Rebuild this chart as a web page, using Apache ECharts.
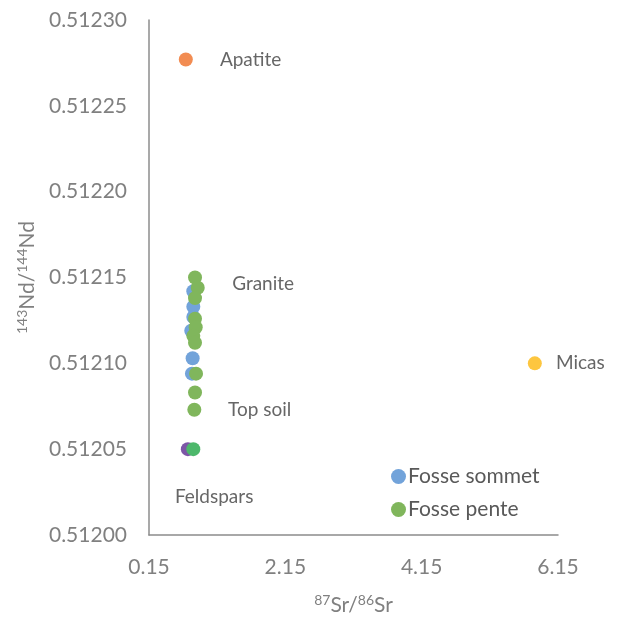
<!DOCTYPE html>
<html><head><meta charset="utf-8">
<script src="https://cdn.jsdelivr.net/npm/echarts@6/dist/echarts.min.js"></script>
<style>html,body{margin:0;padding:0;background:#fff}#c{width:620px;height:617px}</style>
</head><body><div id="c"></div>
<script>
// Data (x = 87Sr/86Sr, y = 143Nd/144Nd)
var fosseSommet = [[0.80,0.512142],[0.80,0.512133],[0.77,0.512119],[0.80,0.512127],[0.79,0.512103],[0.78,0.512094]];
var fossePente = [[0.825,0.512150],[0.865,0.512144],[0.825,0.512138],[0.825,0.512126],[0.835,0.512121],[0.80,0.512116],[0.825,0.512112],[0.84,0.512094],[0.825,0.512083],[0.815,0.512073]];
var apatite = [[0.69,0.512277]];
var micas = [[5.81,0.512100]];
var feldspars = [[0.72,0.512050]];
var topSoil = [[0.80,0.512050]];
var annotations = [[1.19,0.512277,'Apatite'],[6.12,0.512100,'Micas'],[1.37,0.512146,'Granite'],[1.31,0.512073,'Top soil'],[0.53,0.512022,'Feldspars']];
var xTicks = [0.15,2.15,4.15,6.15];
var yTicks = [0.51200,0.51205,0.51210,0.51215,0.51220,0.51225,0.51230];

var FONT = 'Lato';
var chart = echarts.init(document.getElementById('c'), null, {renderer:'canvas'});
function sc(name, data, color, z){
  return {name:name, type:'scatter', data:data, symbolSize:14, z:z||2,
    itemStyle:{color:color, opacity:1}, emphasis:{disabled:true}};
}
chart.setOption({
  animation:false,
  backgroundColor:'#fff',
  grid:{left:149, right:62, top:20, bottom:82, outerBoundsMode:'none', containLabel:false},
  legend:{orient:'vertical', left:386, top:461, itemGap:12, icon:'circle', itemWidth:15, itemHeight:15,
    textStyle:{fontFamily:FONT, fontSize:21, color:'#595959', padding:[0,0,0,-3]},
    data:['Fosse sommet','Fosse pente']},
  xAxis:{type:'value', min:0.15, max:6.15,
    axisLine:{show:true, lineStyle:{color:'#8c8c8c', width:1.5}},
    axisTick:{show:false}, splitLine:{show:false},
    axisLabel:{customValues:xTicks, formatter:function(v){return v.toFixed(2);}, fontFamily:FONT, fontSize:21, color:'#808080', margin:22},
    name:'{sup|87}{b|Sr/}{sup|86}{b|Sr}', nameLocation:'middle', nameGap:58,
    nameTextStyle:{rich:{b:{fontFamily:FONT,fontSize:21,color:'#808080'}, sup:{fontFamily:FONT,fontSize:14,color:'#808080',padding:[0,0,10,0]}}}
  },
  yAxis:{type:'value', min:0.512, max:0.5123, interval:0.00005,
    axisLine:{show:true, lineStyle:{color:'#8c8c8c', width:1.5}},
    axisTick:{show:false}, splitLine:{show:false},
    axisLabel:{customValues:yTicks, formatter:function(v){return v.toFixed(5);}, fontFamily:FONT, fontSize:21, color:'#808080', margin:22},
    name:'{sup|143}{b|Nd/}{sup|144}{b|Nd}', nameLocation:'middle', nameGap:109, nameRotate:90,
    nameTextStyle:{rich:{b:{fontFamily:FONT,fontSize:21,color:'#808080'}, sup:{fontFamily:FONT,fontSize:14,color:'#808080',padding:[0,0,10,0]}}}
  },
  series:[
    sc('Fosse sommet', fosseSommet, '#72A3DA', 2),
    sc('Fosse pente', fossePente, '#80B65C', 3),
    sc('Apatite', apatite, '#F28C52', 2),
    sc('Micas', micas, '#FDC63F', 2),
    sc('Feldspars', feldspars, '#7C56A6', 2),
    sc('Top soil', topSoil, '#4DB86B', 3),
    {name:'labels', type:'scatter', symbolSize:0, data:annotations, z:5, silent:true,
     label:{show:true, position:'right', distance:0, formatter:function(p){return p.data[2];},
       fontFamily:FONT, fontSize:19, color:'#404040'}}
  ]
});
</script></body></html>
